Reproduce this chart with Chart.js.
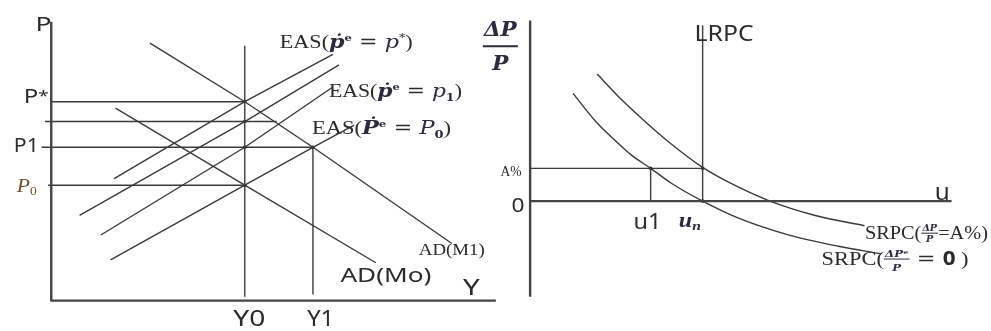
<!DOCTYPE html>
<html>
<head>
<meta charset="utf-8">
<script src="https://cdn.jsdelivr.net/npm/chart.js@4/dist/chart.umd.min.js"></script>
<style>
  html, body { margin: 0; padding: 0; background: #fff; }
  #wrap { position: relative; width: 991px; height: 331px; overflow: hidden; }
  #left { position: absolute; left: 0; top: 0; }
  #right { position: absolute; left: 470px; top: 0; }
</style>
</head>
<body>
<div id="wrap">
  <canvas id="left" width="500" height="331"></canvas>
  <canvas id="right" width="521" height="331"></canvas>
</div>
<script>
// ---- left panel: AD / EAS (output Y, price P) ----
var Y0 = 43.7, Y1 = 59.1;
var P_STAR = 70.3, P_MID = 63.3, P1 = 54.2, P0 = 40.8;

var adM1X = [22.3, Y0, Y1, 90.4];
var adM1P = [91.0, P_STAR, P1, 20.3];
var adM0X = [14.5, Y0, 73.3];
var adM0P = [68.0, P0, 13.4];

var easStarX = [14.2, Y0, 63.6];
var easStarP = [43.1, P_STAR, 87.0];
var easMidX = [6.4, Y0, 65.0];
var easMidP = [30.1, P_MID, 83.3];
var easP1X = [11.2, Y0, 63.6];
var easP1P = [23.2, P1, 75.5];
var easP0X = [13.4, Y0, Y1, 68.4];
var easP0P = [14.4, P0, P1, 62.0];

var hLevels = [P_STAR, P_MID, P1, P0];
var hStart = [0, -1.4, -2.2, -0.7];
var hEnd = [Y0, 50.9, Y1, Y0];

var dotX = [Y0, Y0, Y0, Y0, Y1];
var dotP = [P_STAR, P_MID, P1, P0, P1];

// ---- right panel: Phillips curves (unemployment u, inflation) ----
var U1 = 30.6, UN = 43.8, A_PCT = 11.2;
var srpc0U = [10.9, 16.6, 21.6, 25.75, U1, 35.75, UN, 53.25, 65.75, 78.25, 89.1];
var srpc0Pi = [36.8, 27.3, 20.7, 15.7, A_PCT, 6.2, 0, -6.0, -11.6, -15.4, -18.0];
var srpcAU = [17, 23.25, 29.1, 35.75, UN, 50.75, 60.75, 72.4, 84.9];
var srpcAPi = [43.4, 34.6, 27.3, 19.6, 11.5, 6.2, 0.1, -4.9, -8.4];
var dotU = [U1, UN, UN];
var dotPi = [A_PCT, A_PCT, 0];

var LINE = '#3a3a3a', AXIS = '#444', TEXT = '#2b2b2b', MATH = '#2d2a3c', GOLD = '#6e5226';
var SANS = '"Noto Sans", "Liberation Sans", sans-serif';
var SERIF = '"Liberation Serif", "DejaVu Serif", serif';
var MSERIF = '"DejaVu Serif", serif';

function pts(xs, ys) {
  return xs.map(function (x, i) { return { x: x, y: ys[i] }; });
}
function line(xs, ys, w, color, tension) {
  return {
    data: pts(xs, ys), borderColor: color || LINE, borderWidth: w || 1.4,
    pointRadius: 0, fill: false, tension: tension || 0,
    cubicInterpolationMode: tension ? 'monotone' : 'default'
  };
}
function dots(xs, ys) {
  return { data: pts(xs, ys), showLine: false, pointRadius: 1.8,
    pointBackgroundColor: '#222', pointBorderWidth: 0 };
}

function drawRich(ctx, parts, x, y, width) {
  var total = 0;
  var ws = parts.map(function (p) {
    ctx.font = p.f;
    var w = p.frac ? Math.max(ctx.measureText(p.num).width, ctx.measureText(p.den).width) + 2
                   : ctx.measureText(p.t).width;
    total += w;
    return w;
  });
  var sx = width ? width / total : 1;
  ctx.save();
  ctx.translate(x, y);
  ctx.scale(sx, 1);
  ctx.textBaseline = 'alphabetic';
  ctx.textAlign = 'left';
  var cx = 0;
  parts.forEach(function (p, i) {
    ctx.font = p.f;
    ctx.fillStyle = p.c || TEXT;
    if (p.frac) {
      var w = ws[i];
      var nw = ctx.measureText(p.num).width, dw = ctx.measureText(p.den).width;
      ctx.fillText(p.num, cx + (w - nw) / 2, p.nd);
      ctx.fillText(p.den, cx + (w - dw) / 2, p.dd);
      ctx.fillRect(cx, p.bd - (p.bw || 1) / 2, w, p.bw || 1);
    } else {
      ctx.fillText(p.t, cx, p.dy || 0);
    }
    cx += ws[i];
  });
  ctx.restore();
}

function textPlugin(items) {
  return {
    id: 'richText',
    afterDatasetsDraw: function (chart) {
      var xs = chart.scales.x, ys = chart.scales.y;
      items.forEach(function (it) {
        drawRich(chart.ctx, it.parts, xs.getPixelForValue(it.x), ys.getPixelForValue(it.y), it.w);
      });
    }
  };
}

function baseOptions(xMin, xMax, yMin, yMax) {
  return {
    responsive: false, animation: false, events: [],
    layout: { padding: 0 },
    plugins: { legend: { display: false }, tooltip: { enabled: false } },
    scales: {
      x: { type: 'linear', min: xMin, max: xMax, display: false },
      y: { type: 'linear', min: yMin, max: yMax, display: false }
    }
  };
}

// ---------- left chart ----------
var leftSets = [
  line([0, 0], [-0.3, 98.6], 2.4, AXIS),
  line([0, 100.4], [0, 0], 2.4, AXIS),
  line([Y0, Y0], [1.4, 90.1]),
  line([Y1, Y1], [2.2, P1]),
  line(adM1X, adM1P),
  line(adM0X, adM0P),
  line(easStarX, easStarP),
  line(easMidX, easMidP),
  line(easP1X, easP1P),
  line(easP0X, easP0P),
  dots(dotX, dotP)
];
hLevels.forEach(function (lv, i) {
  leftSets.push(line([hStart[i], hEnd[i]], [lv, lv]));
});

function easParts(sym, symFont, sub, supMark) {
  var parts = [
    { t: 'EAS(', f: '19px ' + SERIF },
    { t: sym, f: symFont, c: MATH },
    { t: 'e', f: 'bold 10px ' + MSERIF, dy: -7, c: MATH },
    { t: ' = ', f: '19px ' + MSERIF }
  ];
  return parts.concat(sub).concat([{ t: ')', f: '19px ' + SERIF }]);
}

var leftLabels = [
  { x: -3.56, y: 95.2, w: 16, parts: [{ t: 'P', f: '19px ' + SANS }] },
  { x: -6.2, y: 69.8, w: 25, parts: [{ t: 'P', f: '19px ' + SANS }, { t: '*', f: '15px ' + SANS, dy: -2 }] },
  { x: -8.44, y: 52.5, w: 25, parts: [{ t: 'P1', f: '20px ' + SANS }] },
  { x: -7.8, y: 38.3, w: 20, parts: [{ t: 'P', f: 'italic 19px ' + SERIF, c: GOLD }, { t: '0', f: '12px ' + SERIF, dy: 3, c: GOLD }] },
  { x: 41.1, y: -8.97, w: 32, parts: [{ t: 'Y0', f: '21px ' + SANS }] },
  { x: 57.8, y: -8.97, w: 27, parts: [{ t: 'Y1', f: '21px ' + SANS }] },
  { x: 93.0, y: 2.07, w: 16.7, parts: [{ t: 'Y', f: '21px ' + SANS }] },
  { x: 65.3, y: 6.55, w: 91, parts: [{ t: 'AD(Mo)', f: '20px ' + SANS }] },
  { x: 83.0, y: 16.2, w: 66, parts: [{ t: 'AD(M1)', f: '17px ' + SERIF }] },
  { x: 51.6, y: 89.3, w: 133, parts: easParts('ṗ', 'bold italic 19px ' + MSERIF,
      [{ t: 'p', f: 'italic 19px ' + MSERIF, c: MATH }, { t: '*', f: '11px ' + MSERIF, dy: -7, c: MATH }]) },
  { x: 62.7, y: 72.1, w: 133, parts: easParts('ṗ', 'bold italic 19px ' + MSERIF,
      [{ t: 'p', f: 'italic 19px ' + MSERIF, c: MATH }, { t: '1', f: 'bold 11px ' + MSERIF, dy: 4, c: MATH }]) },
  { x: 58.9, y: 59.0, w: 139, parts: easParts('Ṗ', 'bold italic 19px ' + MSERIF,
      [{ t: 'P', f: 'italic 19px ' + MSERIF, c: MATH }, { t: '0', f: 'bold 11px ' + MSERIF, dy: 4, c: MATH }]) }
];

new Chart(document.getElementById('left'), {
  type: 'line',
  data: { datasets: leftSets },
  options: baseOptions(-10.67, 100.44, -9.31, 104.83),
  plugins: [textPlugin(leftLabels)]
});

// ---------- right chart ----------
var rightSets = [
  line([0, 0], [-32.7, 61.7], 2.4, AXIS),
  line([0, 107], [0, 0], 2.4, AXIS),
  line([UN, UN], [0, 60]),
  line([0, UN], [A_PCT, A_PCT]),
  line([U1, U1], [0, A_PCT]),
  line(srpc0U, srpc0Pi, 1.4, LINE, 0.4),
  line(srpcAU, srpcAPi, 1.4, LINE, 0.4),
  dots(dotU, dotPi)
];

var rightLabels = [
  { x: -12, y: 52.9, w: 35, parts: [{ frac: true, num: 'ΔP', den: 'P', f: 'bold italic 20px ' + MSERIF,
      nd: -10, bd: 0, dd: 24, bw: 2, c: MATH }] },
  { x: 41.75, y: 54.6, w: 59, parts: [{ t: 'LRPC', f: '22px ' + SANS }] },
  { x: 102.75, y: 0.33, w: 15, parts: [{ t: 'u', f: '24px ' + SANS }] },
  { x: -4.75, y: -3.67, w: 13, parts: [{ t: '0', f: '20px ' + SANS }] },
  { x: -7.5, y: 8.67, w: 21, parts: [{ t: 'A%', f: '14px ' + SERIF }] },
  { x: 26.25, y: -9.67, w: 28, parts: [{ t: 'u1', f: '22px ' + SANS }] },
  { x: 37.75, y: -9.0, w: 22, parts: [{ t: 'u', f: 'bold italic 20px ' + SERIF, c: MATH }, { t: 'n', f: 'bold italic 13px ' + SERIF, dy: 3, c: MATH }] },
  { x: 85, y: -13, w: 123, parts: [
      { t: 'SRPC(', f: '19px ' + SERIF },
      { frac: true, num: 'ΔP', den: 'P', f: 'bold italic 9px ' + MSERIF, nd: -8, bd: -6, dd: 3, c: MATH },
      { t: '=A%)', f: '19px ' + SERIF }] },
  { x: 74, y: -21.67, w: 147, parts: [
      { t: 'SRPC(', f: '19px ' + SERIF },
      { frac: true, num: 'ΔPᵉ', den: 'P', f: 'bold italic 10px ' + MSERIF, nd: -7.5, bd: -5.5, dd: 6, c: MATH },
      { t: ' = ', f: '19px ' + MSERIF },
      { t: '0', f: 'bold 19px ' + SANS },
      { t: ' )', f: '19px ' + SERIF }] }
];

new Chart(document.getElementById('right'), {
  type: 'line',
  data: { datasets: rightSets },
  options: baseOptions(-14.25, 116, -43, 67.33),
  plugins: [textPlugin(rightLabels)]
});
</script>
</body>
</html>
